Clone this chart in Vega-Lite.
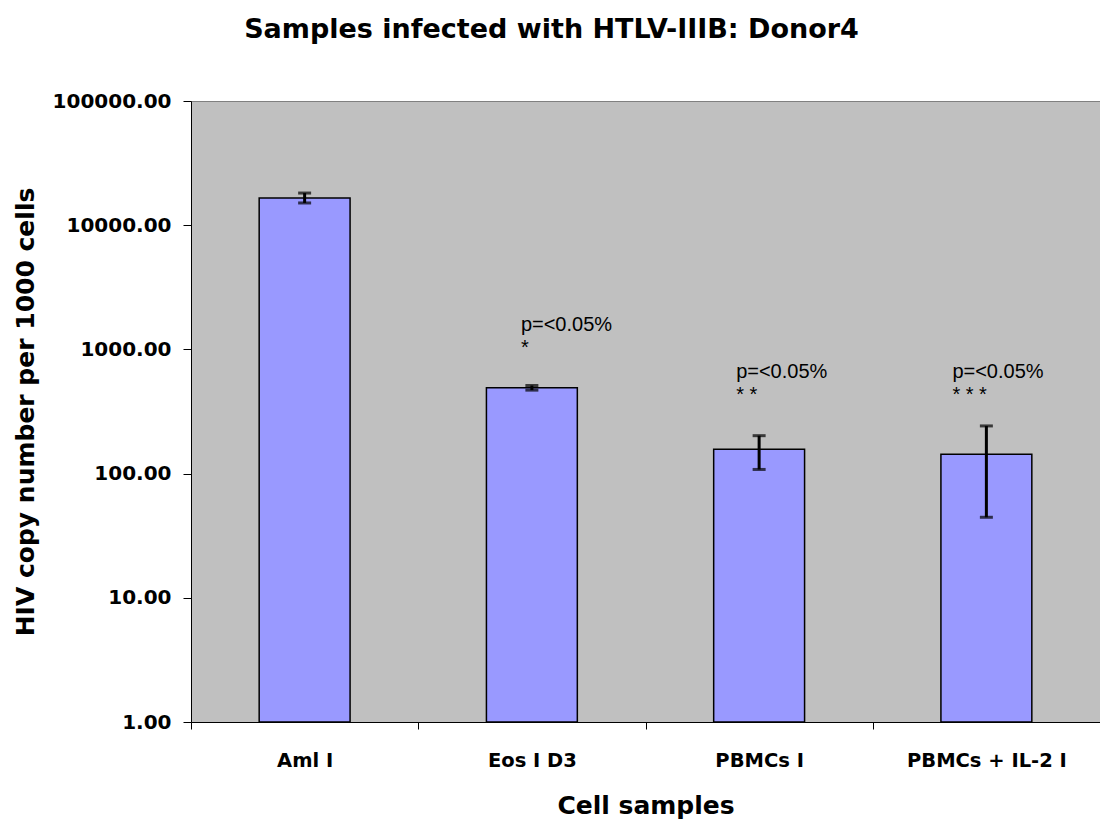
{
  "$schema": "https://vega.github.io/schema/vega-lite/v6.json",
  "width": 909,
  "height": 621,
  "autosize": "none",
  "padding": {"left": 191, "top": 101, "right": 0, "bottom": 102},
  "background": "white",
  "title": {
    "text": "Samples infected with HTLV-IIIB: Donor4",
    "font": "DejaVu Sans",
    "fontWeight": "bold",
    "fontSize": 27,
    "color": "black",
    "anchor": "middle",
    "frame": "group",
    "dx": -94,
    "baseline": "alphabetic",
    "offset": 26
  },
  "config": {
    "view": {"fill": "#C0C0C0", "stroke": "#808080", "strokeWidth": 1},
    "axisX": {
      "labelAngle": 0,
      "tickBand": "extent",
      "tickSize": 7,
      "tickColor": "black",
      "domainColor": "black",
      "labelPadding": 22,
      "labelFont": "DejaVu Sans",
      "labelFontWeight": "bold",
      "labelFontSize": 19.5,
      "labelColor": "black",
      "titleFont": "DejaVu Sans",
      "titleFontWeight": "bold",
      "titleFontSize": 25,
      "titleColor": "black",
      "titlePadding": 24
    },
    "axisY": {
      "grid": false,
      "tickSize": 8,
      "tickColor": "black",
      "domainColor": "black",
      "labelPadding": 12,
      "labelFont": "DejaVu Sans",
      "labelFontWeight": "bold",
      "labelFontSize": 20,
      "labelColor": "black",
      "labelFlush": false,
      "labelOverlap": false,
      "titleFont": "DejaVu Sans",
      "titleFontWeight": "bold",
      "titleFontSize": 25,
      "titleColor": "black",
      "titlePadding": 14
    }
  },
  "datasets": {
    "bars": [
      {"sample": "Aml I", "value": 16550, "lo": 15100, "hi": 18150},
      {"sample": "Eos I D3", "value": 492, "lo": 470, "hi": 512},
      {"sample": "PBMCs I", "value": 157, "lo": 108, "hi": 202},
      {"sample": "PBMCs + IL-2 I", "value": 143, "lo": 44.5, "hi": 242}
    ],
    "notes": [
      {"sample": "Eos I D3", "at": 1406, "note": ["p=<0.05%", "*"]},
      {"sample": "PBMCs I", "at": 589, "note": ["p=<0.05%", "* *"]},
      {"sample": "PBMCs + IL-2 I", "at": 589, "note": ["p=<0.05%", "* * *"]}
    ]
  },
  "layer": [
    {
      "data": {"name": "bars"},
      "mark": {"type": "bar", "color": "#9999FF", "stroke": "black", "strokeWidth": 1.5, "width": {"band": 0.4}},
      "encoding": {
        "x": {
          "field": "sample",
          "type": "nominal",
          "sort": null,
          "title": "Cell samples",
          "scale": {"paddingInner": 0, "paddingOuter": 0}
        },
        "y": {
          "field": "value",
          "type": "quantitative",
          "title": "HIV copy number per 1000 cells",
          "scale": {"type": "log", "domain": [1, 100000]},
          "axis": {"values": [1, 10, 100, 1000, 10000, 100000], "format": ".2f"}
        },
        "y2": {"datum": 1}
      }
    },
    {
      "data": {"name": "bars"},
      "mark": {"type": "rule", "color": "black", "strokeWidth": 3},
      "encoding": {
        "x": {"field": "sample", "type": "nominal", "sort": null, "title": "Cell samples"},
        "y": {"field": "lo", "type": "quantitative", "title": "HIV copy number per 1000 cells"},
        "y2": {"field": "hi"}
      }
    },
    {
      "data": {"name": "bars"},
      "mark": {"type": "tick", "color": "black", "size": 13, "thickness": 3},
      "encoding": {
        "x": {"field": "sample", "type": "nominal", "sort": null, "title": "Cell samples"},
        "y": {"field": "hi", "type": "quantitative", "title": "HIV copy number per 1000 cells"}
      }
    },
    {
      "data": {"name": "bars"},
      "mark": {"type": "tick", "color": "black", "size": 13, "thickness": 3},
      "encoding": {
        "x": {"field": "sample", "type": "nominal", "sort": null, "title": "Cell samples"},
        "y": {"field": "lo", "type": "quantitative", "title": "HIV copy number per 1000 cells"}
      }
    },
    {
      "data": {"name": "notes"},
      "transform": [{"filter": "datum.sample === 'Eos I D3'"}],
      "mark": {"type": "text", "font": "Liberation Sans", "fontSize": 20, "color": "black", "align": "left", "baseline": "alphabetic", "lineHeight": 23, "dx": -11},
      "encoding": {
        "x": {"field": "sample", "type": "nominal", "sort": null, "title": "Cell samples"},
        "y": {"field": "at", "type": "quantitative", "title": "HIV copy number per 1000 cells"},
        "text": {"field": "note"}
      }
    },
    {
      "data": {"name": "notes"},
      "transform": [{"filter": "datum.sample === 'PBMCs I'"}],
      "mark": {"type": "text", "font": "Liberation Sans", "fontSize": 20, "color": "black", "align": "left", "baseline": "alphabetic", "lineHeight": 23, "dx": -23},
      "encoding": {
        "x": {"field": "sample", "type": "nominal", "sort": null, "title": "Cell samples"},
        "y": {"field": "at", "type": "quantitative", "title": "HIV copy number per 1000 cells"},
        "text": {"field": "note"}
      }
    },
    {
      "data": {"name": "notes"},
      "transform": [{"filter": "datum.sample === 'PBMCs + IL-2 I'"}],
      "mark": {"type": "text", "font": "Liberation Sans", "fontSize": 20, "color": "black", "align": "left", "baseline": "alphabetic", "lineHeight": 23, "dx": -34},
      "encoding": {
        "x": {"field": "sample", "type": "nominal", "sort": null, "title": "Cell samples"},
        "y": {"field": "at", "type": "quantitative", "title": "HIV copy number per 1000 cells"},
        "text": {"field": "note"}
      }
    }
  ]
}
